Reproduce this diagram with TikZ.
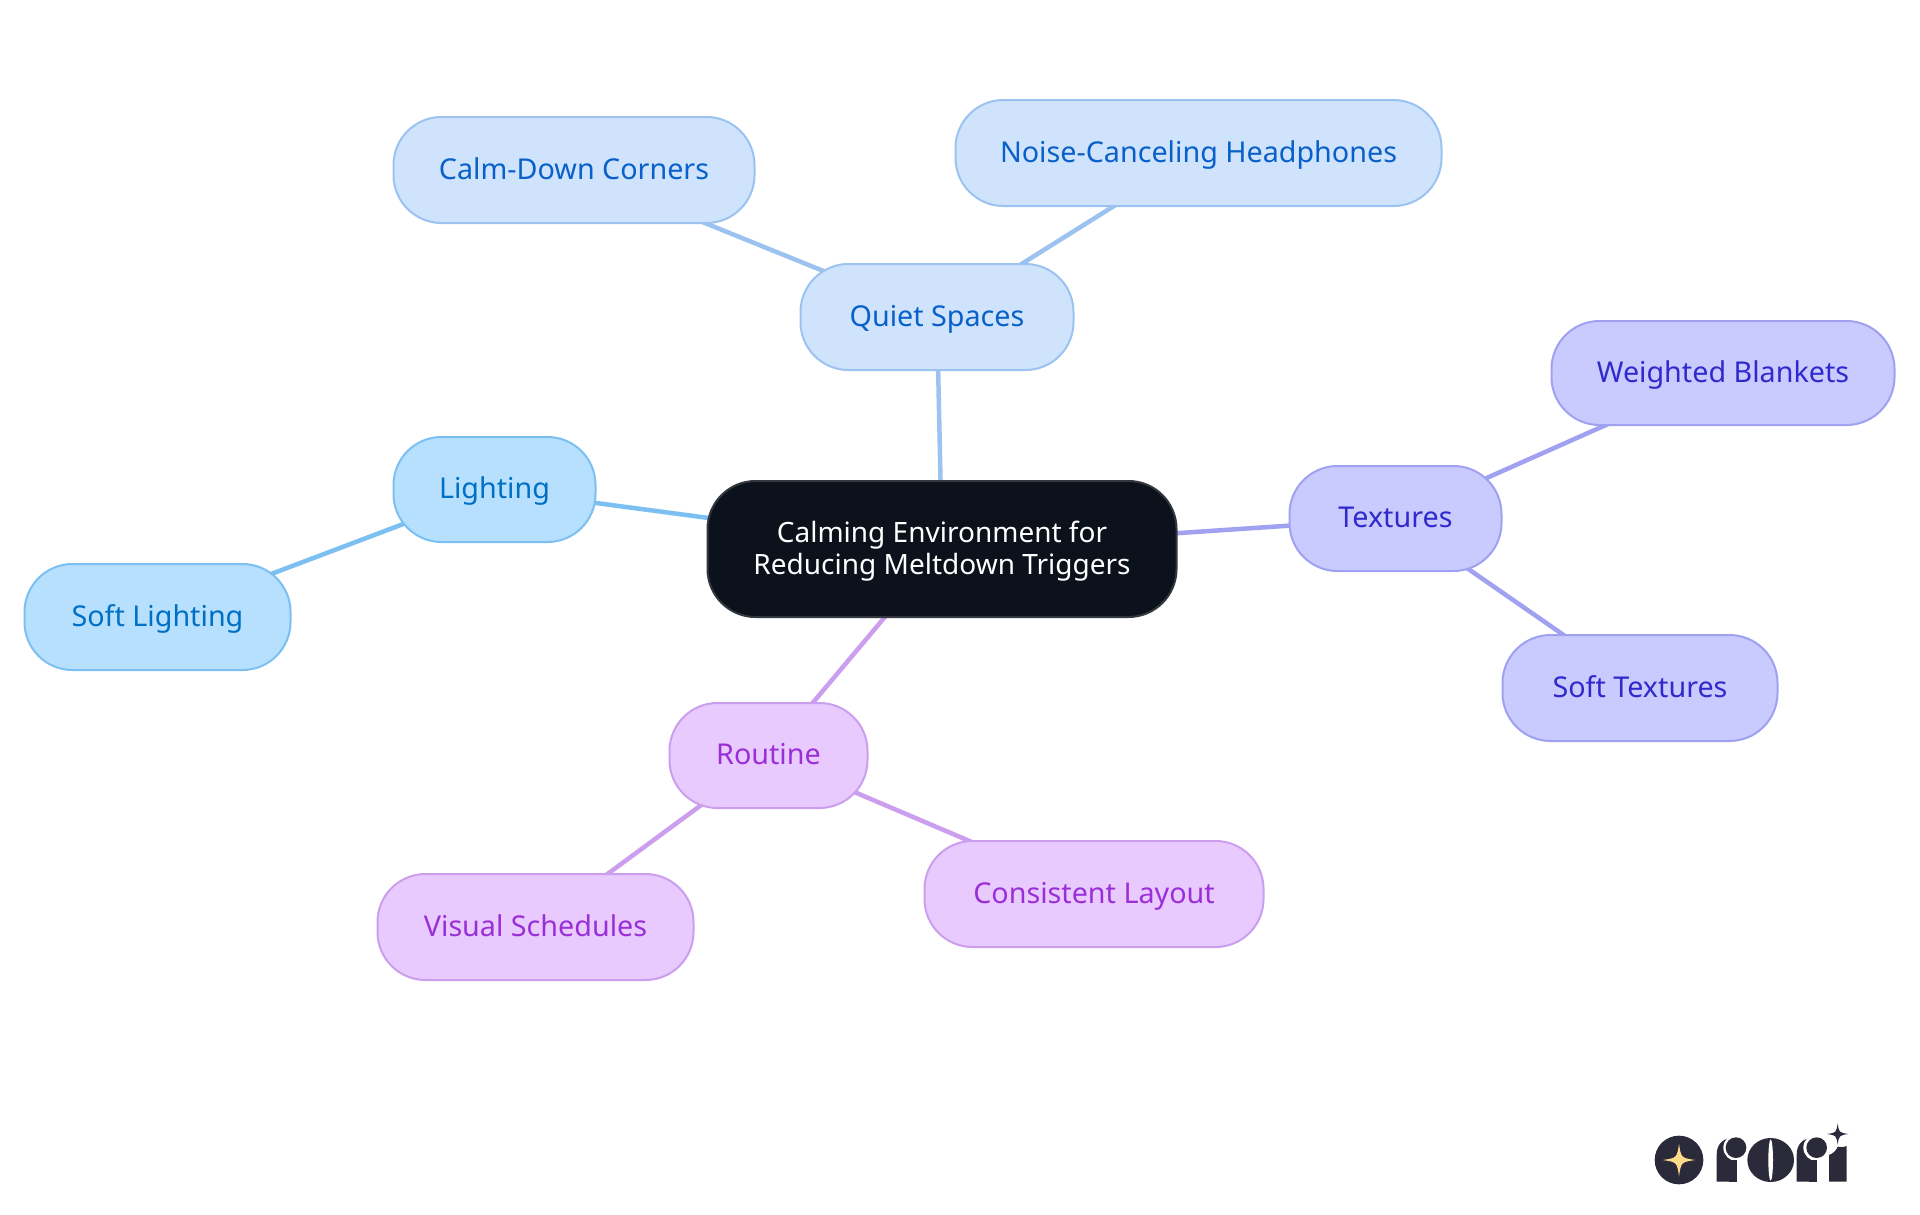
\documentclass[tikz,border=0pt]{standalone}
\usepackage{fontspec}
\setmainfont{Noto Sans}
\usetikzlibrary{backgrounds}
\definecolor{lightF}{HTML}{B6E0FE}\definecolor{lightD}{HTML}{7CC0F2}\definecolor{lightT}{HTML}{0070C4}
\definecolor{quietF}{HTML}{CFE3FD}\definecolor{quietD}{HTML}{9CC3F0}\definecolor{quietT}{HTML}{0860C8}
\definecolor{textF}{HTML}{C9CAFD}\definecolor{textD}{HTML}{A0A1F0}\definecolor{textT}{HTML}{2E2ACB}
\definecolor{routF}{HTML}{E8CAFF}\definecolor{routD}{HTML}{CC9EEE}\definecolor{routT}{HTML}{9A2FD8}
\definecolor{rootF}{HTML}{0B121B}\definecolor{rootD}{HTML}{33383F}
\definecolor{logoD}{HTML}{2A2A3A}\definecolor{logoS}{HTML}{FFD98A}
\newcommand{\fourstar}[4]{\fill[#4] (#1,#2-#3) .. controls (#1+.13*#3,#2-.13*#3) .. (#1+#3,#2) .. controls (#1+.13*#3,#2+.13*#3) .. (#1,#2+#3) .. controls (#1-.13*#3,#2+.13*#3) .. (#1-#3,#2) .. controls (#1-.13*#3,#2-.13*#3) .. cycle;}
\tikzset{
  mm/.style={rectangle,rounded corners=48,line width=2,inner sep=0,align=center,font=\fontsize{28.7}{32}\selectfont,text height=24,text depth=6},
  lightN/.style={mm,fill=lightF,draw=lightD,text=lightT},
  quietN/.style={mm,fill=quietF,draw=quietD,text=quietT},
  textN/.style={mm,fill=textF,draw=textD,text=textT},
  routN/.style={mm,fill=routF,draw=routD,text=routT},
  rootN/.style={rectangle,rounded corners=48,line width=2,inner sep=0,align=center,font=\fontsize{28}{32}\selectfont,fill=rootF,draw=rootD,text=white},
  lnk/.style={line width=4.5},
}
\newcommand{\nd}[7]{\node[#1,minimum width=#5-#4-1,minimum height=#7-#6-1] (#2) at ({(#4+#5)/2},{(#6+#7)/2+.5}) {#3};}
\begin{document}
\begin{tikzpicture}[x=1pt,y=-1pt]
\useasboundingbox (0,0) rectangle (1920,1215);
\nd{rootN}{root}{\rule{0pt}{26pt}Calming Environment for\\Reducing Meltdown Triggers}{707}{1177}{480}{617}
\nd{quietN}{noise}{Noise-Canceling Headphones}{955}{1442}{99}{206}
\nd{quietN}{calm}{Calm-Down Corners}{393}{755}{116}{223}
\nd{quietN}{quiet}{Quiet Spaces}{800}{1074}{263}{370}
\nd{lightN}{light}{Lighting}{393}{596}{436}{542}
\nd{lightN}{soft}{Soft Lighting}{24}{291}{563}{670}
\nd{textN}{tex}{Textures}{1289}{1502}{465}{571}
\nd{textN}{blank}{Weighted Blankets}{1551}{1895}{320}{425}
\nd{textN}{stex}{Soft Textures}{1502}{1778}{634}{741}
\nd{routN}{rout}{Routine}{669}{868}{702}{808}
\nd{routN}{layout}{Consistent Layout}{924}{1264}{840}{947}
\nd{routN}{vis}{Visual Schedules}{377}{694}{873}{980}
\begin{scope}[on background layer]
\fill[white] (0,0) rectangle (1920,1215);
\draw[lnk,quietD] (root.center) -- (quiet.center);
\draw[lnk,quietD] (quiet.center) -- (noise.center);
\draw[lnk,quietD] (quiet.center) -- (calm.center);
\draw[lnk,lightD] (root.center) -- (light.center);
\draw[lnk,lightD] (light.center) -- (soft.center);
\draw[lnk,textD] (root.center) -- (tex.center);
\draw[lnk,textD] (tex.center) -- (blank.center);
\draw[lnk,textD] (tex.center) -- (stex.center);
\draw[lnk,routD] (root.center) -- (rout.center);
\draw[lnk,routD] (rout.center) -- (layout.center);
\draw[lnk,routD] (rout.center) -- (vis.center);
\end{scope}
\begin{scope}[shift={(1620,1100)},x=1pt/3,y=-1pt/3]
\fill[logoD] (177,180) circle[radius=73];
\fourstar{177}{180}{49}{logoS}
% r
\fill[logoD] (290,245) -- (290,165) .. controls (290,135) and (305,115) .. (340,113) -- (350,245) -- cycle;
\fill[white] (350,143) circle[radius=40];
\fill[logoD] (348,143) circle[radius=31];
\fill[logoD] (328,180) rectangle (350,245);
% o
\fill[logoD] (452,180) ellipse[x radius=70,y radius=66];
\fill[white] (452,180) ellipse[x radius=7,y radius=62];
% r
\fill[logoD] (530,245) -- (530,165) .. controls (530,135) and (545,115) .. (580,113) -- (590,245) -- cycle;
\fill[white] (590,143) circle[radius=40];
\fill[logoD] (590,143) circle[radius=31];
\fill[logoD] (568,180) rectangle (590,245);
% i
\fill[logoD] (627,245) -- (627,165) .. controls (640,160) and (650,150) .. (653,140) .. controls (660,142) and (670,142) .. (680,138) -- (680,245) -- cycle;
\fourstar{653}{102}{32}{logoD}
\end{scope}
\end{tikzpicture}
\end{document}
